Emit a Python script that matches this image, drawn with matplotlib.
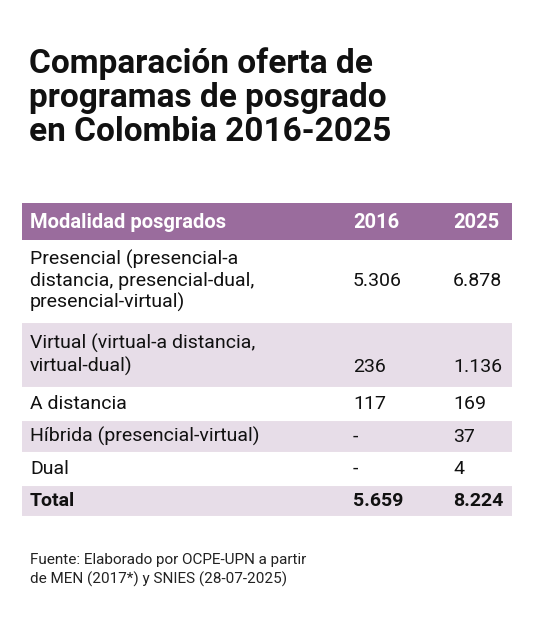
import matplotlib.pyplot as plt
from matplotlib.patches import Rectangle

plt.rcParams['font.family'] = ['Roboto', 'DejaVu Sans']

title = "Comparación oferta de\nprogramas de posgrado\nen Colombia 2016-2025"
header = ["Modalidad posgrados", "2016", "2025"]
modalidades = [
    "Presencial (presencial-a\ndistancia, presencial-dual,\npresencial-virtual)",
    "Virtual (virtual-a distancia,\nvirtual-dual)",
    "A distancia",
    "Híbrida (presencial-virtual)",
    "Dual",
    "Total",
]
valores_2016 = ["5.306", "236", "117", "-", "-", "5.659"]
valores_2025 = ["6.878", "1.136", "169", "37", "4", "8.224"]
fuente = "Fuente: Elaborado por OCPE-UPN a partir\nde MEN (2017*) y SNIES (28-07-2025)"

# row bounds in pixels (top, bottom)
rows = [(240, 322), (322, 388), (388, 420), (420, 453), (453, 485), (485, 517)]
purple = "#9a6c9d"
light = "#e7dde8"

fig = plt.figure(figsize=(5.38, 6.33), dpi=100)
ax = fig.add_axes([0, 0, 1, 1])
ax.set_xlim(0, 538)
ax.set_ylim(633, 0)
ax.axis('off')

ax.text(29, 47, title, fontsize=24, fontweight='bold', va='top', ha='left',
        linespacing=1.08, color='#111111')

ax.add_patch(Rectangle((22, 203), 490, 37, color=purple, lw=0))
ax.text(30, 222, header[0], fontsize=14.5, fontweight='bold', color='white', va='center')
ax.text(353, 222, header[1], fontsize=14.5, fontweight='bold', color='white', va='center')
ax.text(453, 222, header[2], fontsize=14.5, fontweight='bold', color='white', va='center')

for i, (top, bot) in enumerate(rows):
    if i % 2 == 1:
        ax.add_patch(Rectangle((22, top), 490, bot - top, color=light, lw=0))
    ax.plot([22, 512], [bot, bot], color='white', lw=1.5)
    bold = 'bold' if modalidades[i] == "Total" else 'normal'
    mid = (top + bot) / 2
    nl = modalidades[i].count("\n") + 1
    ax.text(30, mid, modalidades[i], fontsize=14, fontweight=bold, va='center',
            linespacing=1.22, color='#111111')
    # values sit on the last text line
    vy = mid + 12.5 if nl == 2 else mid
    ax.text(353, vy, valores_2016[i], fontsize=14, fontweight=bold, va='center', color='#111111')
    ax.text(453, vy, valores_2025[i], fontsize=14, fontweight=bold, va='center', color='#111111')

ax.text(30, 570, fuente, fontsize=11, va='center', linespacing=1.35, color='#222222')

fig.savefig("out.png", dpi=100, facecolor='white')
